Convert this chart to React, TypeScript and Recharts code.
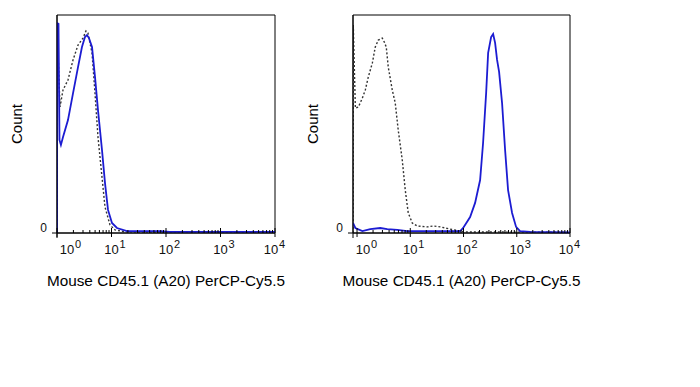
import React from "react";
import { LineChart, Line, XAxis, YAxis, ReferenceArea } from "recharts";

// axis structure
const majorTicks = [1, 10, 100, 1000, 10000];
const minorSteps = [2, 3, 4, 5, 6, 7, 8, 9];
const countTicks = [0];
const axisTitle = "Mouse CD45.1 (A20) PerCP-Cy5.5";
const countTitle = "Count";

// left panel - isotype control (dotted)
const leftControlIntensity = [1, 1.005, 1.135, 1.29, 1.59, 1.97, 2.43, 3.0, 3.4, 3.7, 4.39, 4.98, 5.65, 6.69, 7.6, 9.38, 11.6, 17.7, 10000];
const leftControlCount = [0, 95, 57.8, 65.6, 70.2, 79.4, 86.2, 89.4, 92.7, 91.7, 82.6, 64.2, 44.0, 25.7, 11.9, 3.7, 1.4, 0.5, 0.3];

// left panel - stained (blue)
const leftStainedIntensity = [1, 1.005, 1.065, 1.11, 1.18, 1.29, 1.59, 1.97, 2.43, 2.87, 3.26, 3.55, 3.86, 4.39, 4.98, 5.65, 6.69, 7.6, 8.63, 10.2, 12.6, 19.2, 77.6, 118, 10000];
const leftStainedCount = [0, 96.3, 96, 42.7, 40.4, 44.0, 51.8, 64.2, 76.1, 85.3, 89.9, 90.8, 89.4, 85.3, 71.6, 56.4, 38.1, 22.9, 10.6, 4.6, 2.3, 0.9, 0.9, 0.5, 0.5];

// right panel - isotype control (dotted)
const rightControlIntensity = [0.84, 0.85, 0.93, 1.06, 1.26, 1.43, 1.63, 1.94, 2.2, 2.51, 2.98, 3.25, 3.54, 3.86, 4.59, 5.22, 5.94, 7.07, 8.05, 9.16, 10.9, 13.5, 20.8, 27.0, 36.5, 56.1, 86.5, 103, 10000];
const rightControlCount = [0, 95.4, 57.3, 57.8, 61.9, 65.6, 71.6, 78.0, 85.3, 88.5, 89.4, 87.6, 85.3, 76.1, 65.6, 59.6, 47.2, 33.5, 19.7, 9.2, 4.6, 3.2, 2.8, 3.2, 2.8, 1.8, 0.9, 0.5, 0.3];

// right panel - stained (blue)
const rightStainedIntensity = [0.84, 0.93, 1.26, 1.77, 2.73, 3.7, 5.7, 8.77, 86.5, 98.5, 133, 165, 205, 233, 266, 290, 330, 360, 392, 427, 466, 530, 604, 687, 817, 971, 1153, 1780, 10000];
const rightStainedCount = [4.6, 2.3, 0.9, 1.8, 2.3, 1.8, 1.4, 0.9, 0.9, 2.3, 7.3, 13.8, 24.3, 41.3, 64.2, 82.6, 89.9, 91.3, 87.2, 79.4, 73.9, 59.6, 38.1, 19.7, 9.2, 2.8, 0.9, 0.5, 0.3];

const FONT = "'Liberation Sans', Arial, sans-serif";
const BLUE = "#1c1cd2";

const toSeries = (xs: number[], ys: number[]) =>
  xs.map((v, i) => ({ v, count: ys[i] }));

function LogTick(props: any) {
  const { x, y, payload, plotLeft } = props;
  const v = payload.value;
  const exp = Math.round(Math.log10(v));
  const major = Math.abs(Math.log10(v) - exp) < 1e-6;
  if (!major) {
    return <line x1={x} x2={x} y1={y} y2={y - 3} stroke="#000" strokeWidth={1} />;
  }
  let cx = x;
  if (exp === 0) cx = Math.max(x, plotLeft + 10);
  if (exp === 4) cx = x - 4;
  return (
    <g>
      <line x1={x} x2={x} y1={y - 5} y2={y + 4} stroke="#000" strokeWidth={1} />
      <text x={cx} y={y + 21} textAnchor="middle" fontSize={13} fill="#111" fontFamily={FONT}>
        10
      </text>
      <text x={cx + 8} y={y + 15} textAnchor="start" fontSize={11} fill="#111" fontFamily={FONT}>
        {exp}
      </text>
    </g>
  );
}

function ZeroTick(props: any) {
  const { x, y, payload } = props;
  return (
    <g>
      <text x={x} y={y - 1} textAnchor="end" fontSize={12} fill="#111" fontFamily={FONT}>
        {payload.value}
      </text>
      <line x1={x + 10} x2={x + 10} y1={y} y2={y + 5} stroke="#000" />
    </g>
  );
}

type PanelProps = {
  left: number;
  yWidth: number;
  domainMin: number;
  control: { v: number; count: number }[];
  stained: { v: number; count: number }[];
};

function Panel({ left, yWidth, domainMin, control, stained }: PanelProps) {
  const ticks = [
    ...majorTicks,
    ...majorTicks.slice(0, -1).flatMap((m) => minorSteps.map((s) => m * s)),
  ]
    .filter((t) => t >= domainMin)
    .sort((a, b) => a - b);

  return (
    <div style={{ position: "absolute", left, top: 0 }}>
      <LineChart width={300} height={387} margin={{ top: 15, right: 25, left: 0, bottom: 0 }}>
        <XAxis
          dataKey="v"
          type="number"
          scale="log"
          domain={[domainMin, 10000]}
          allowDataOverflow
          ticks={ticks}
          interval={0}
          height={154}
          tickSize={0}
          tickMargin={0}
          tickLine={false}
          axisLine={{ stroke: "#000" }}
          tick={(p: any) => <LogTick {...p} plotLeft={yWidth} />}
          label={(p: any) => {
            const vb = p.viewBox;
            return (
              <text
                x={vb.x + vb.width / 2}
                y={vb.y + 53}
                textAnchor="middle"
                fontSize={15.3}
                fill="#000"
                fontFamily={FONT}
              >
                {axisTitle}
              </text>
            );
          }}
        />
        <YAxis
          type="number"
          domain={[0, 100]}
          ticks={countTicks}
          width={yWidth}
          tickSize={5}
          tickMargin={5}
          tickLine={{ stroke: "#000" }}
          axisLine={{ stroke: "#000" }}
          tick={(p: any) => <ZeroTick {...p} />}
          label={(p: any) => {
            const vb = p.viewBox;
            const tx = vb.x + vb.width - 35;
            const ty = vb.y + vb.height / 2;
            return (
              <text
                x={tx}
                y={ty}
                transform={`rotate(-90 ${tx} ${ty})`}
                textAnchor="middle"
                fontSize={15}
                fill="#000"
                fontFamily={FONT}
              >
                {countTitle}
              </text>
            );
          }}
        />
        <Line
          data={control}
          dataKey="count"
          type="linear"
          dot={false}
          activeDot={false}
          stroke="#333"
          strokeWidth={1.4}
          strokeDasharray="2 2"
          isAnimationActive={false}
        />
        <Line
          data={stained}
          dataKey="count"
          type="linear"
          dot={false}
          activeDot={false}
          stroke={BLUE}
          strokeWidth={1.8}
          isAnimationActive={false}
        />
        <ReferenceArea
          x1={domainMin}
          x2={10000}
          y1={0}
          y2={100}
          fill="none"
          stroke="#000"
          strokeWidth={1}
          ifOverflow="visible"
        />
      </LineChart>
    </div>
  );
}

export default function App() {
  return (
    <div
      style={{
        position: "absolute",
        left: 0,
        top: 0,
        width: 700,
        height: 387,
        background: "#fff",
        overflow: "hidden",
      }}
    >
      <Panel
        left={0}
        yWidth={57}
        domainMin={1}
        control={toSeries(leftControlIntensity, leftControlCount)}
        stained={toSeries(leftStainedIntensity, leftStainedCount)}
      />
      <Panel
        left={295}
        yWidth={58}
        domainMin={0.84}
        control={toSeries(rightControlIntensity, rightControlCount)}
        stained={toSeries(rightStainedIntensity, rightStainedCount)}
      />
    </div>
  );
}
